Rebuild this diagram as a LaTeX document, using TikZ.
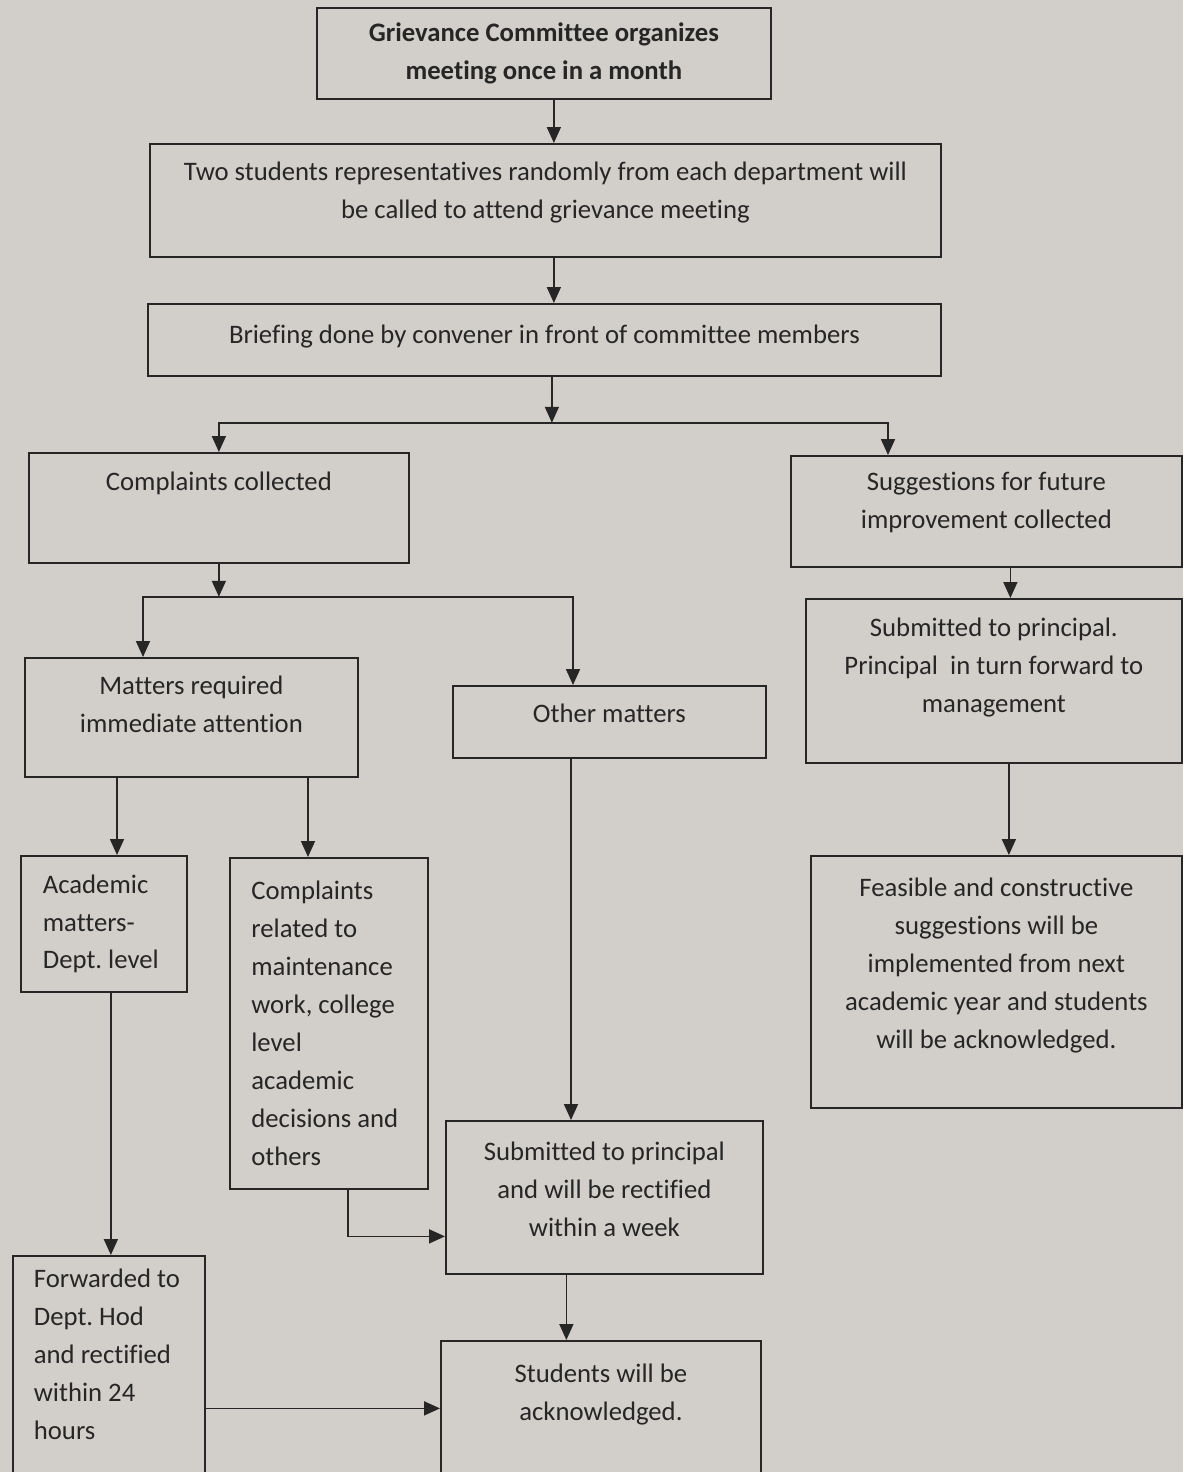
\documentclass[tikz,border=0pt]{standalone}
\usepackage{fontspec}
\setmainfont{Carlito}[Ligatures=CommonOff]
\usetikzlibrary{arrows.meta,positioning}
\definecolor{papir}{RGB}{210,207,202}
\definecolor{blaek}{RGB}{38,38,38}
\newcommand{\tekst}{\fontsize{15.2pt}{21.6pt}\selectfont\frenchspacing}

\begin{document}
\begin{tikzpicture}

\tikzstyle{rute}=[rectangle, draw=blaek, line width=1pt, text=blaek, anchor=north west, inner sep=0pt, align=center, font=\tekst]
\tikzstyle{venstre}=[align=flush left]
\tikzstyle{pil}=[-{Triangle[length=3.2mm,width=2.8mm]}, draw=blaek, line width=1pt]

\fill[papir] (0,0) rectangle (23.66,-29.44);
\useasboundingbox (0,0) rectangle (23.66,-29.44);
\clip (0,0) rectangle (23.66,-29.44);

\node[rute, font=\tekst\bfseries, minimum width=9.08cm, minimum height=1.82cm] (griev) at (6.32,-0.14) {Grievance Committee organizes\\meeting once in a month};
\node[rute, text depth=0.39cm, minimum width=15.82cm, minimum height=2.26cm] (two) at (2.98,-2.86) {Two students representatives randomly from each department will\\be called to attend grievance meeting};
\node[rute, text depth=0.24cm, minimum width=15.86cm, minimum height=1.44cm] (brief) at (2.94,-6.06) {Briefing done by convener in front of committee members};
\node[rute, text depth=0.32cm, minimum width=7.6cm, minimum height=2.2cm] (compl) at (0.56,-9.04) {Complaints collected\\\mbox{}};
\node[rute, text depth=0.43cm, minimum width=7.82cm, minimum height=2.22cm] (sugg) at (15.80,-9.10) {Suggestions for future\\improvement collected};
\node[rute, text depth=0.52cm, minimum width=6.66cm, minimum height=2.38cm] (matters) at (0.48,-13.14) {Matters required\\immediate attention};
\node[rute, text depth=0.36cm, minimum width=6.26cm, minimum height=1.44cm] (other) at (9.04,-13.70) {Other matters};
\node[rute, text depth=0.63cm, minimum width=7.52cm, minimum height=3.28cm] (subm) at (16.10,-11.96) {Submitted to principal.\\Principal~ in turn forward to\\management};
\node[rute, venstre, text width=2.44cm, inner xsep=0.44cm, minimum height=2.72cm] (acad) at (0.40,-17.10) {Academic\\matters-\\Dept. level};
\node[rute, venstre, text width=3.1cm, inner xsep=0.43cm, minimum height=6.62cm] (related) at (4.58,-17.14) {Complaints\\related to\\maintenance\\work, college\\level\\academic\\decisions and\\others};
\node[rute, minimum width=7.42cm, minimum height=5.04cm] (feas) at (16.20,-17.10) {Feasible and constructive\\suggestions will be\\implemented from next\\academic year and students\\will be acknowledged.\\\mbox{}};
\node[rute, text depth=0.32cm, minimum width=6.34cm, minimum height=3.06cm] (week) at (8.90,-22.40) {Submitted to principal\\and will be rectified\\within a week};
\node[rute, venstre, text width=3.0cm, inner xsep=0.42cm, minimum height=4.7cm] (fwd) at (0.24,-25.10) {Forwarded to\\Dept. Hod\\and rectified\\within 24\\hours\\\mbox{}};
\node[rute, text depth=0.2cm, minimum width=6.4cm, minimum height=3.0cm] (ack) at (8.80,-26.80) {Students will be\\acknowledged.\\\mbox{}};

\coordinate (split1) at ([xshift=0.15cm,yshift=-0.92cm]brief.south);
\coordinate[below=0.66cm of compl.south] (split2);

\draw[pil] ([xshift=0.2cm]griev.south) -- ([xshift=0.2cm]griev.south |- two.north);
\draw[pil] ([xshift=0.17cm]two.south) -- ([xshift=0.17cm]two.south |- brief.north);
\draw[pil] (brief.south -| split1) -- (split1);
\draw[pil] (split1) -| (compl.north);
\draw[pil] (split1) -| ([xshift=1.96cm]sugg.north west);
\draw[pil] (compl.south) -- (split2);
\draw[pil] (split2) -| ([xshift=2.38cm]matters.north west);
\draw[pil] (split2) -| ([xshift=2.42cm]other.north west);
\draw[pil] ([xshift=0.48cm]sugg.south) -- ([xshift=0.48cm]sugg.south |- subm.north);
\draw[pil] ([xshift=0.3cm]subm.south) -- ([xshift=0.3cm]subm.south |- feas.north);
\draw[pil] ([xshift=1.86cm]matters.south west) -- ([xshift=1.86cm]matters.south west |- acad.north);
\draw[pil] ([xshift=5.68cm]matters.south west) -- ([xshift=5.68cm]matters.south west |- related.north);
\draw[pil] ([xshift=2.38cm]other.south west) -- ([xshift=2.38cm]other.south west |- week.north);
\draw[pil] ([xshift=0.14cm]acad.south) -- ([xshift=0.14cm]acad.south |- fwd.north);
\draw[pil] ([xshift=2.38cm]related.south west) |- ([yshift=-0.78cm]week.west);
\draw[pil] ([xshift=-0.76cm]week.south) -- ([xshift=-0.76cm]week.south |- ack.north);
\draw[pil] ([yshift=-0.7cm]fwd.east) -- ([yshift=-0.7cm]fwd.east -| ack.west);

\end{tikzpicture}
\end{document}
